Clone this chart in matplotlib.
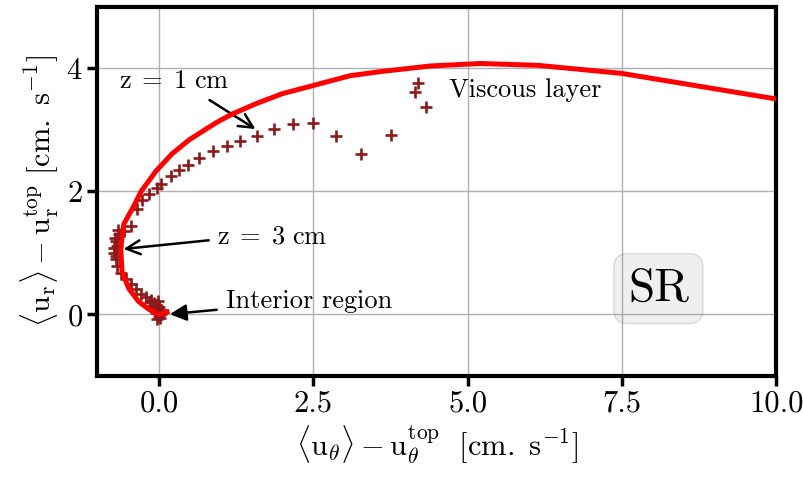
import matplotlib
matplotlib.use("Agg")
import matplotlib.pyplot as plt

plt.rcParams["font.family"] = "serif"
plt.rcParams["font.serif"] = ["cmr10"]
plt.rcParams["mathtext.fontset"] = "cm"
plt.rcParams["axes.formatter.use_mathtext"] = True

# hodograph from the model (thick red line)
model_ut = [0.13, 0.00, -0.16, -0.33, -0.49, -0.60, -0.62, -0.57, -0.41, -0.29,
            -0.05, 0.21, 0.49, 0.93, 1.19, 1.58, 2.00, 2.49, 3.09, 3.60, 4.40,
            5.21, 6.14, 7.49, 10.5]
model_ur = [0.04, 0.00, 0.08, 0.21, 0.42, 0.70, 1.08, 1.47, 1.76, 2.00,
            2.33, 2.61, 2.84, 3.12, 3.26, 3.43, 3.59, 3.72, 3.88, 3.95, 4.04,
            4.08, 4.05, 3.92, 3.42]

# measured profile (crosses)
meas_ut = [0.02, 0.04, -0.03, 0.00, -0.05, 0.05, 0.03, -0.03, 0.00, -0.02, -0.11,
           -0.05, -0.08, -0.15, -0.13, -0.21, -0.29, -0.37, -0.46, -0.54, -0.62,
           -0.68, -0.70, -0.70, -0.73, -0.73, -0.68, -0.72, -0.70, -0.66, -0.65,
           -0.57, -0.46, -0.36, -0.28, -0.16, -0.03, 0.03, 0.19, 0.33, 0.47, 0.65,
           0.88, 1.10, 1.32, 1.58, 1.87, 2.17, 2.49, 2.87, 3.27, 3.76, 4.32, 4.15,
           4.19]
meas_ur = [-0.05, 0.00, -0.08, -0.03, 0.02, 0.05, 0.08, 0.10, 0.12, 0.22, 0.13,
           0.15, 0.18, 0.20, 0.24, 0.29, 0.34, 0.41, 0.49, 0.57, 0.67, 0.78, 0.90,
           0.95, 1.00, 1.08, 1.12, 1.25, 1.19, 1.38, 1.30, 1.35, 1.44, 1.71, 1.86,
           1.96, 2.06, 2.12, 2.25, 2.35, 2.43, 2.54, 2.65, 2.74, 2.82, 2.90, 3.02,
           3.10, 3.12, 2.90, 2.61, 2.92, 3.38, 3.62, 3.77]

x_ticks = [0.0, 2.5, 5.0, 7.5, 10.0]
y_ticks = [0, 2, 4]

fig = plt.figure(figsize=(8.04, 4.94), dpi=100)
ax = fig.add_axes([0.121, 0.239, 0.8445, 0.747])

ax.plot(meas_ut, meas_ur, "+", color="#8b1a1a", markersize=9, mew=1.9, zorder=3)
ax.plot(model_ut, model_ur, "-", color="red", lw=3.6, zorder=4,
        solid_joinstyle="round")

ax.set_xlim(-1, 10)
ax.set_ylim(-1, 5)
ax.set_xticks(x_ticks)
ax.set_xticklabels([f"{t:.1f}" for t in x_ticks])
ax.set_yticks(y_ticks)
ax.grid(True, color="#b0b0b0", lw=1.0, zorder=0)
ax.set_axisbelow(True)

for s in ax.spines.values():
    s.set_linewidth(3)
ax.tick_params(labelsize=22, width=2.5, length=7, direction="out")

ax.set_xlabel(r"$\langle \mathrm{u}_\theta \rangle - \mathrm{u}_\theta^{\mathrm{top}}\ \ [\mathrm{cm.\ s}^{-1}]$",
              fontsize=22)
ax.set_ylabel(r"$\langle \mathrm{u_r} \rangle - \mathrm{u_r^{top}}\ [\mathrm{cm.\ s}^{-1}]$",
              fontsize=22)

# labels for the different layers
ax.annotate("", xy=(1.60, 2.99), xytext=(0.78, 3.51),
            arrowprops=dict(arrowstyle="->", lw=1.8, color="black", mutation_scale=25))
ax.text(-0.65, 3.8, r"$\mathrm{z}\;=\;1\ \mathrm{cm}$", fontsize=19, va="center", ha="left")

ax.annotate("", xy=(-0.62, 1.06), xytext=(0.85, 1.21),
            arrowprops=dict(arrowstyle="->", lw=1.8, color="black", mutation_scale=25))
ax.text(0.94, 1.27, r"$\mathrm{z}\;=\;3\ \mathrm{cm}$", fontsize=19, va="center", ha="left")

ax.annotate("", xy=(0.13, 0.0), xytext=(0.98, 0.08),
            arrowprops=dict(arrowstyle="-|>", lw=1.8, color="black", mutation_scale=25))
ax.text(1.09, 0.21, "Interior region", fontsize=19, va="center", ha="left")

ax.text(4.69, 3.64, "Viscous layer", fontsize=19, va="center", ha="left")

ax.text(8.09, 0.42, "SR", fontsize=34, va="center", ha="center",
        bbox=dict(boxstyle="round", facecolor="gray", edgecolor="black", alpha=0.12))

fig.savefig("out.png", dpi=100)
